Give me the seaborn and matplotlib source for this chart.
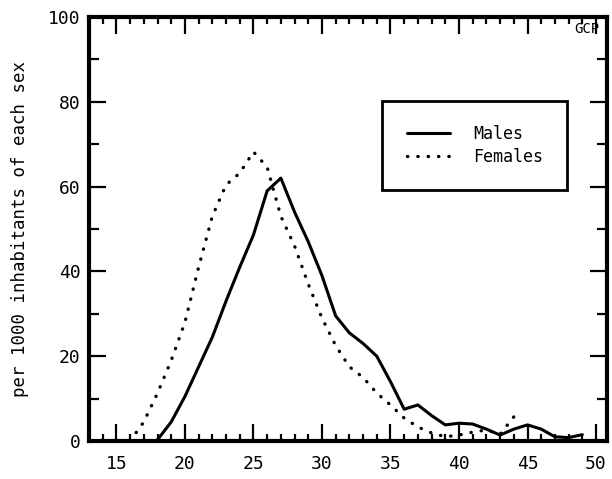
import numpy as np
import pandas as pd
import matplotlib
matplotlib.use("Agg")
import matplotlib.pyplot as plt
import seaborn as sns

male_age = [18, 19, 20, 21, 22, 23, 24, 25, 26, 27, 28, 29, 30, 31, 32, 33, 34,
            35, 36, 37, 38, 39, 40, 41, 42, 43, 44, 45, 46, 47, 48, 49]
male_val = [0.3, 4.5, 10.5, 17.5, 24.5, 33, 41, 48.6, 59, 62, 54, 47, 39, 29.5, 25.5, 23, 20,
            14, 7.5, 8.5, 6, 3.8, 4.2, 4, 2.8, 1.4, 2.8, 3.8, 2.8, 1.0, 0.8, 1.5]
female_age = [16, 17, 18, 19, 20, 21, 22, 23, 24, 25, 26, 27, 28, 29, 30, 31, 32, 33,
              34, 35, 36, 37, 38, 39, 40, 41, 42, 43, 44]
female_val = [0, 4.5, 11.3, 19, 28, 41, 53, 60.4, 63.2, 68.2, 64.6, 53, 46, 37, 29, 22.5, 17.5, 15,
              11.3, 8.5, 5.4, 3.3, 1.9, 1.0, 1.4, 2.1, 2.6, 1.6, 5.7]
x_ticks = [15, 20, 25, 30, 35, 40, 45, 50]
y_ticks = [0, 20, 40, 60, 80, 100]

sns.set_style("ticks")
mono = ["DejaVu Sans Mono", "DejaVu Sans"]
plt.rcParams["font.family"] = mono

fig = plt.figure(figsize=(6.12, 4.79), dpi=100)
ax = fig.add_axes([89 / 612, 1 - 441 / 479, 518 / 612, 424 / 479])

dm = pd.DataFrame({"age": male_age, "val": male_val})
df = pd.DataFrame({"age": female_age, "val": female_val})
sns.lineplot(data=dm, x="age", y="val", ax=ax, color="black", lw=2.2, label="Males")
sns.lineplot(data=df, x="age", y="val", ax=ax, color="black", lw=2.4, label="Females",
             dashes=False)
ax.lines[1].set_linestyle((0, (0.1, 3.0)))
ax.lines[1].set_dash_capstyle("round")

ax.set_xlim(13, 50.8)
ax.set_ylim(0, 100)
ax.set_xticks(x_ticks)
ax.set_yticks(y_ticks)
ax.set_xticks(np.arange(13, 51, 1), minor=True)
ax.set_yticks(np.arange(0, 101, 10), minor=True)
ax.tick_params(which="both", direction="in", top=True, right=True, width=1.6, color="black")
ax.tick_params(which="major", length=12, labelsize=13, labelcolor="black")
ax.tick_params(which="minor", length=5)
ax.tick_params(axis="y", which="minor", length=7)
ax.tick_params(axis="x", which="major", pad=10)
ax.tick_params(axis="y", which="major", pad=6)
for s in ax.spines.values():
    s.set_linewidth(3)
    s.set_color("black")
ax.set_xlabel("")
ax.set_ylabel("per 1000 inhabitants of each sex", fontsize=12.5, labelpad=14, color="black")

leg = ax.legend(loc="center", bbox_to_anchor=(0.745, 0.697), fontsize=12,
                frameon=True, fancybox=False, framealpha=1, borderpad=1.45,
                handlelength=2.6, handletextpad=1.4, labelspacing=0.3, borderaxespad=0)
leg.get_frame().set_edgecolor("black")
leg.get_frame().set_linewidth(2)
for t in leg.get_texts():
    t.set_color("black")
leg.get_lines()[1].set_linestyle((0, (0.1, 3.0)))
leg.get_lines()[1].set_dash_capstyle("round")

fig.text(574 / 612, 1 - 29 / 479, "GCP", fontsize=10, ha="left", va="center", color="black")

fig.savefig("out.png", dpi=100)
